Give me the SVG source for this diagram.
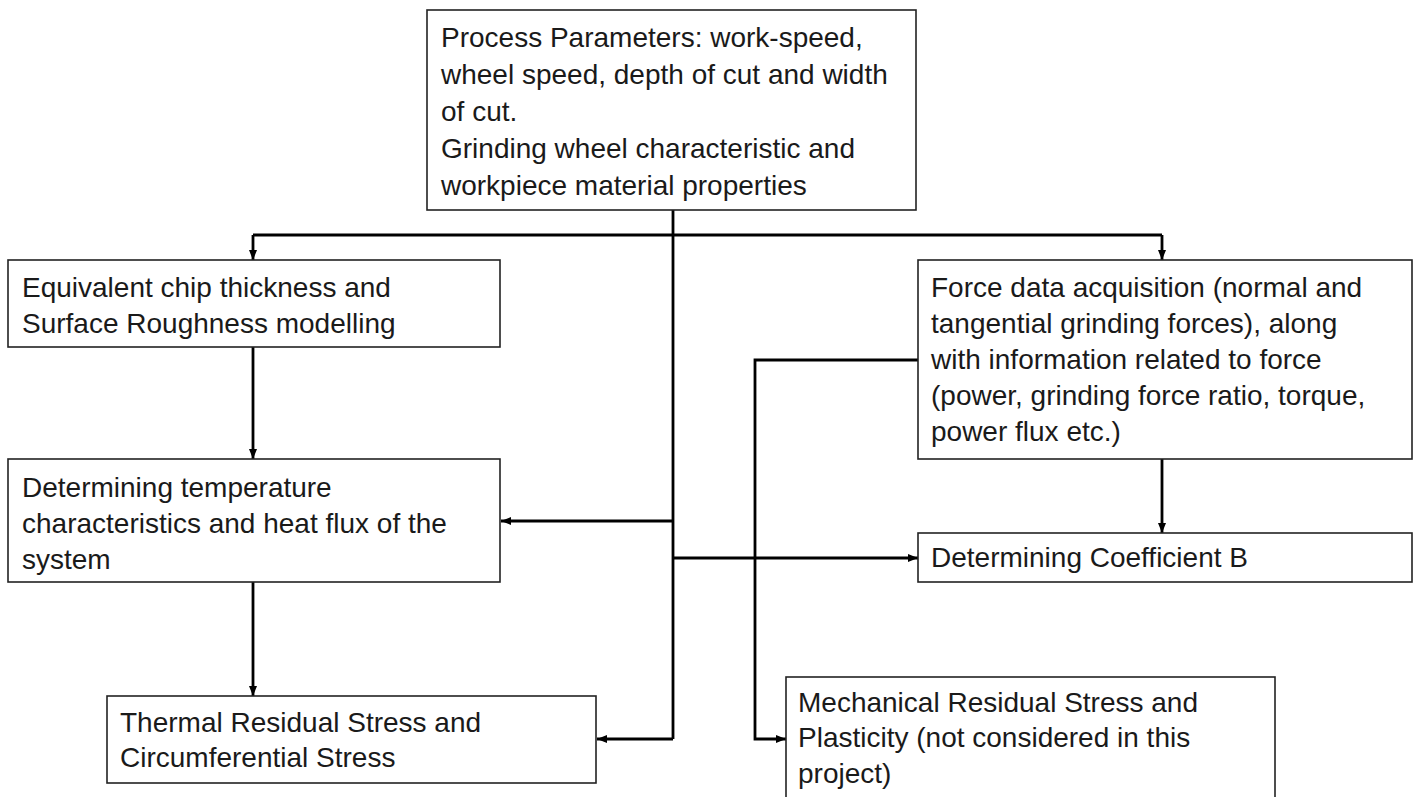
<svg xmlns="http://www.w3.org/2000/svg" width="1416" height="797" viewBox="0 0 1416 797">
<style>
.box{fill:#fff;stroke:#222;stroke-width:1.6}
.t{font-family:"Liberation Sans",Arial,sans-serif;font-size:28px;fill:#1a1a1a}
.c{fill:none;stroke:#000;stroke-width:2.8}
</style>
<defs>
<marker id="ah" viewBox="0 0 10 10" refX="10" refY="5" markerWidth="10" markerHeight="10" markerUnits="userSpaceOnUse" orient="auto">
<path d="M0,1 L10,5 L0,9 Z" fill="#000"/>
</marker>
</defs>
<rect width="1416" height="797" fill="#fff"/>
<g id="connectors">
<path class="c" d="M673,210 V739"/>
<path class="c" d="M253,235 H1162"/>
<path class="c" d="M253,235 V260" marker-end="url(#ah)"/>
<path class="c" d="M1162,235 V260" marker-end="url(#ah)"/>
<path class="c" d="M673,521 H501" marker-end="url(#ah)"/>
<path class="c" d="M673,558 H918" marker-end="url(#ah)"/>
<path class="c" d="M673,739 H597" marker-end="url(#ah)"/>
<path class="c" d="M253,347 V459" marker-end="url(#ah)"/>
<path class="c" d="M253,582 V696" marker-end="url(#ah)"/>
<path class="c" d="M1162,459 V533" marker-end="url(#ah)"/>
<path class="c" d="M918,360 H755 V739 H786" marker-end="url(#ah)"/>
</g>
<g id="process">
<rect class="box" x="427" y="10" width="489" height="200"/>
<text class="t" x="441"><tspan x="441" y="47">Process Parameters: work-speed,</tspan><tspan x="441" y="84">wheel speed, depth of cut and width</tspan><tspan x="441" y="121">of cut.</tspan><tspan x="441" y="158">Grinding wheel characteristic and</tspan><tspan x="441" y="195">workpiece material properties</tspan></text>
</g>
<g id="chip">
<rect class="box" x="8" y="260" width="492" height="87"/>
<text class="t"><tspan x="22" y="297">Equivalent chip thickness and</tspan><tspan x="22" y="333">Surface Roughness modelling</tspan></text>
</g>
<g id="temperature">
<rect class="box" x="8" y="459" width="492" height="123"/>
<text class="t"><tspan x="22" y="497">Determining temperature</tspan><tspan x="22" y="533">characteristics and heat flux of the</tspan><tspan x="22" y="569">system</tspan></text>
</g>
<g id="thermal">
<rect class="box" x="107" y="696" width="489" height="87"/>
<text class="t"><tspan x="120" y="732">Thermal Residual Stress and</tspan><tspan x="120" y="767">Circumferential Stress</tspan></text>
</g>
<g id="force">
<rect class="box" x="918" y="260" width="494" height="199"/>
<text class="t"><tspan x="931" y="297">Force data acquisition (normal and</tspan><tspan x="931" y="333">tangential grinding forces), along</tspan><tspan x="931" y="369">with information related to force</tspan><tspan x="931" y="405">(power, grinding force ratio, torque,</tspan><tspan x="931" y="441">power flux etc.)</tspan></text>
</g>
<g id="coefficient">
<rect class="box" x="918" y="533" width="494" height="49"/>
<text class="t"><tspan x="931" y="567">Determining Coefficient B</tspan></text>
</g>
<g id="mechanical">
<rect class="box" x="786" y="677" width="489" height="135"/>
<text class="t"><tspan x="798" y="712">Mechanical Residual Stress and</tspan><tspan x="798" y="747">Plasticity (not considered in this</tspan><tspan x="798" y="783">project)</tspan></text>
</g>
</svg>
